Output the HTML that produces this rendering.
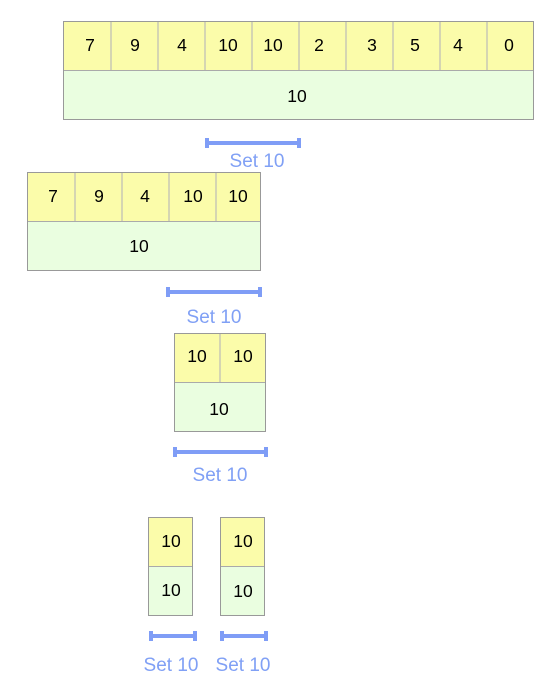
<!DOCTYPE html>
<html><head><style>html,body{margin:0;padding:0;background:#fff}</style></head><body>
<svg width="552" height="691" xmlns="http://www.w3.org/2000/svg" font-family="Liberation Sans, sans-serif">
<g font-size="17.5" fill="#000" text-anchor="middle">
<!-- Box1 -->
<rect x="63.5" y="21.5" width="470" height="49" fill="#fbfcaa"/>
<rect x="63.5" y="70.5" width="470" height="49" fill="#eafee0"/>
<g stroke="#c8c8b4" stroke-width="1.5">
<line x1="111" y1="22" x2="111" y2="70"/><line x1="158" y1="22" x2="158" y2="70"/><line x1="205" y1="22" x2="205" y2="70"/><line x1="252" y1="22" x2="252" y2="70"/><line x1="299" y1="22" x2="299" y2="70"/><line x1="346" y1="22" x2="346" y2="70"/><line x1="393" y1="22" x2="393" y2="70"/><line x1="440" y1="22" x2="440" y2="70"/><line x1="487" y1="22" x2="487" y2="70"/>
</g>
<line x1="63.5" y1="70.5" x2="533.5" y2="70.5" stroke="#aaa"/>
<rect x="63.5" y="21.5" width="470" height="98" fill="none" stroke="#999"/>
<text x="90" y="51">7</text><text x="135" y="51">9</text><text x="182" y="51">4</text><text x="228" y="51">10</text><text x="273" y="51">10</text><text x="319" y="51">2</text><text x="372" y="51">3</text><text x="415" y="51">5</text><text x="458" y="51">4</text><text x="509" y="51">0</text>
<text x="297" y="102">10</text>
<!-- Box2 -->
<rect x="27.5" y="172.5" width="233" height="49" fill="#fbfcaa"/>
<rect x="27.5" y="221.5" width="233" height="49" fill="#eafee0"/>
<g stroke="#c8c8b4" stroke-width="1.5">
<line x1="75" y1="173" x2="75" y2="221"/><line x1="122" y1="173" x2="122" y2="221"/><line x1="169" y1="173" x2="169" y2="221"/><line x1="216" y1="173" x2="216" y2="221"/>
</g>
<line x1="27.5" y1="221.5" x2="260.5" y2="221.5" stroke="#aaa"/>
<rect x="27.5" y="172.5" width="233" height="98" fill="none" stroke="#999"/>
<text x="53" y="202">7</text><text x="99" y="202">9</text><text x="145" y="202">4</text><text x="193" y="202">10</text><text x="238" y="202">10</text>
<text x="139" y="252">10</text>
<!-- Box3 -->
<rect x="174.5" y="333.5" width="91" height="49" fill="#fbfcaa"/>
<rect x="174.5" y="382.5" width="91" height="49" fill="#eafee0"/>
<line x1="220" y1="334" x2="220" y2="382" stroke="#c8c8b4" stroke-width="1.5"/>
<line x1="174.5" y1="382.5" x2="265.5" y2="382.5" stroke="#aaa"/>
<rect x="174.5" y="333.5" width="91" height="98" fill="none" stroke="#999"/>
<text x="197" y="362">10</text><text x="243" y="362">10</text>
<text x="219" y="415">10</text>
<!-- Box4 -->
<rect x="148.5" y="517.5" width="44" height="49" fill="#fbfcaa"/>
<rect x="148.5" y="566.5" width="44" height="49" fill="#eafee0"/>
<line x1="148.5" y1="566.5" x2="192.5" y2="566.5" stroke="#aaa"/>
<rect x="148.5" y="517.5" width="44" height="98" fill="none" stroke="#999"/>
<text x="171" y="547">10</text><text x="171" y="596">10</text>
<!-- Box5 -->
<rect x="220.5" y="517.5" width="44" height="49" fill="#fbfcaa"/>
<rect x="220.5" y="566.5" width="44" height="49" fill="#eafee0"/>
<line x1="220.5" y1="566.5" x2="264.5" y2="566.5" stroke="#aaa"/>
<rect x="220.5" y="517.5" width="44" height="98" fill="none" stroke="#999"/>
<text x="243" y="547">10</text><text x="243" y="597">10</text>
</g>
<g fill="#7f9df6">
<rect x="206" y="141" width="94" height="4"/><rect x="205" y="138" width="4" height="10"/><rect x="297" y="138" width="4" height="10"/>
<rect x="167" y="290" width="94" height="4"/><rect x="166" y="287" width="4" height="10"/><rect x="258" y="287" width="4" height="10"/>
<rect x="174" y="450" width="93" height="4"/><rect x="173" y="447" width="4" height="10"/><rect x="264" y="447" width="4" height="10"/>
<rect x="150" y="634" width="46" height="4"/><rect x="149" y="631" width="4" height="10"/><rect x="193" y="631" width="4" height="10"/>
<rect x="221" y="634" width="46" height="4"/><rect x="220" y="631" width="4" height="10"/><rect x="264" y="631" width="4" height="10"/>
</g>
<g fill="#80a0f5" font-size="19" text-anchor="middle">
<text x="257" y="167">Set 10</text>
<text x="214" y="323">Set 10</text>
<text x="220" y="481">Set 10</text>
<text x="171" y="671">Set 10</text>
<text x="243" y="671">Set 10</text>
</g>
</svg>
</body></html>
